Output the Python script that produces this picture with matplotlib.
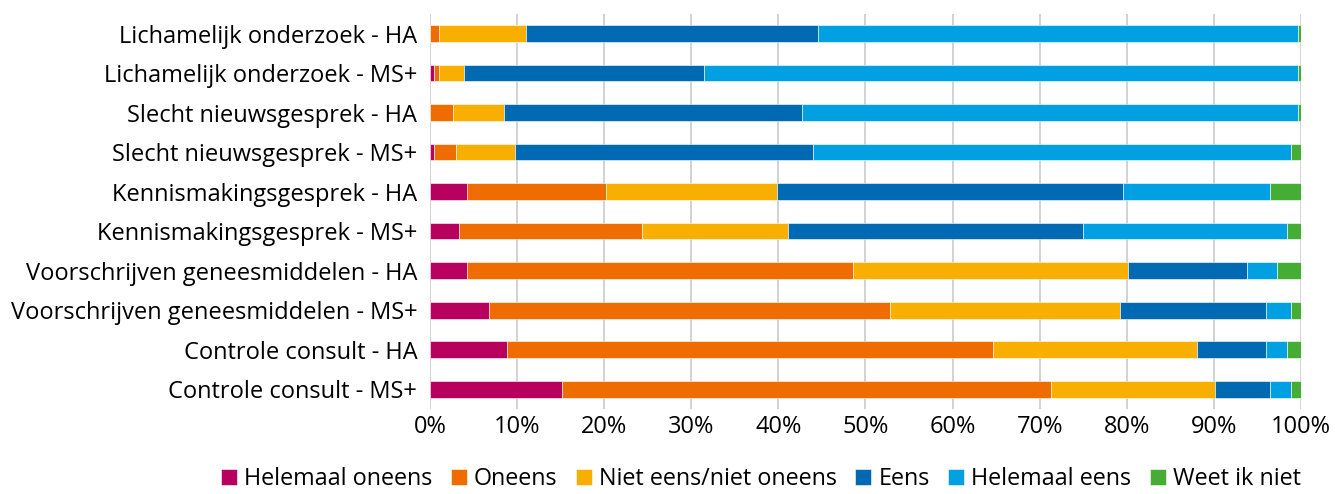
import numpy as np
import matplotlib.pyplot as plt
from matplotlib.ticker import PercentFormatter

plt.rcParams['font.family'] = ['Open Sans', 'DejaVu Sans']

categories = [
    "Lichamelijk onderzoek - HA",
    "Lichamelijk onderzoek - MS+",
    "Slecht nieuwsgesprek - HA",
    "Slecht nieuwsgesprek - MS+",
    "Kennismakingsgesprek - HA",
    "Kennismakingsgesprek - MS+",
    "Voorschrijven geneesmiddelen - HA",
    "Voorschrijven geneesmiddelen - MS+",
    "Controle consult - HA",
    "Controle consult - MS+",
]

series_names = ["Helemaal oneens", "Oneens", "Niet eens/niet oneens",
                "Eens", "Helemaal eens", "Weet ik niet"]

helemaal_oneens = [0.0, 0.5, 0.0, 0.5, 4.3, 3.4, 4.3, 6.8, 8.9, 15.2]
oneens = [1.0, 0.5, 2.6, 2.5, 15.9, 21.0, 44.3, 46.0, 55.7, 56.1]
niet_eens = [10.0, 2.9, 5.9, 6.8, 19.7, 16.7, 31.5, 26.4, 23.5, 18.8]
eens = [33.5, 27.6, 34.2, 34.2, 39.7, 33.9, 13.7, 16.8, 7.9, 6.3]
helemaal_eens = [55.2, 68.2, 57.0, 54.9, 16.8, 23.4, 3.5, 2.9, 2.4, 2.5]
weet_niet = [0.3, 0.3, 0.3, 1.1, 3.6, 1.6, 2.7, 1.1, 1.6, 1.1]

colors = ["#B8005F", "#EE6C00", "#F9AF00", "#0069B4", "#00A0E2", "#45AC34"]

values = [helemaal_oneens, oneens, niet_eens, eens, helemaal_eens, weet_niet]

fig = plt.figure(figsize=(13.35, 4.94), dpi=100)
ax = fig.add_axes([0.322, 0.172, 0.6525, 0.80])

y = np.arange(len(categories))
left = np.zeros(len(categories))
for name, vals, col in zip(series_names, values, colors):
    vals = np.array(vals)
    ax.barh(y, vals, left=left, height=0.42, color=col, label=name,
            edgecolor="white", linewidth=0.4, zorder=3)
    left += vals

ax.set_xlim(0, 100)
ax.set_ylim(len(categories) - 0.5, -0.5)
ax.set_yticks(y)
ax.set_yticklabels(categories, fontsize=17)
ax.set_xticks(np.arange(0, 101, 10))
ax.xaxis.set_major_formatter(PercentFormatter(decimals=0))
ax.tick_params(axis='x', labelsize=17, length=0, pad=4)
ax.tick_params(axis='y', length=0, pad=9)
ax.grid(axis='x', color="#CFCFCF", linewidth=1.3, zorder=0)
for s in ax.spines.values():
    s.set_visible(False)

fig.legend(loc="center", bbox_to_anchor=(0.570, 0.03), ncol=6,
           frameon=False, fontsize=16.8, handlelength=0.68, handleheight=0.68,
           handletextpad=0.3, columnspacing=0.8, borderpad=0.1)

fig.savefig("out.png", dpi=100)
